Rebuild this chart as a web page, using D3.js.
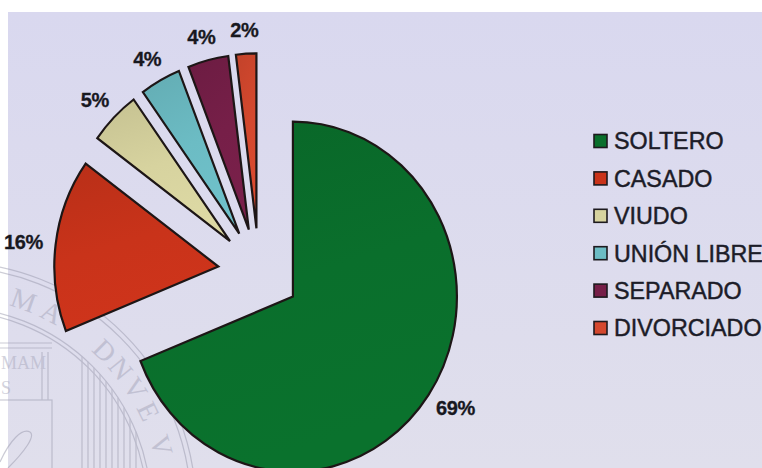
<!DOCTYPE html>
<html>
<head>
<meta charset="utf-8">
<script src="https://cdn.jsdelivr.net/npm/d3@7/dist/d3.min.js"></script>
<style>
  html, body { margin: 0; padding: 0; background: #ffffff; }
  svg { display: block; }
</style>
</head>
<body>
<svg id="chart" width="762" height="468"></svg>
<script>
// Estado civil: distribución porcentual
const categories = ["SOLTERO", "CASADO", "VIUDO", "UNIÓN LIBRE", "SEPARADO", "DIVORCIADO"];
const values = [69, 16, 5, 4, 4, 2];

const palette = ["#0a6f2c", "#c9331a", "#d7d39f", "#6cbcc4", "#761f48", "#d4482e"];

const W = 762, H = 468;
const svg = d3.select("#chart");
const defs = svg.append("defs");

// page + plot area
svg.append("rect").attr("width", W).attr("height", H).attr("fill", "#ffffff");
const bg = defs.append("linearGradient").attr("id", "bgGrad")
  .attr("x1", 0).attr("y1", 0).attr("x2", 0).attr("y2", 1);
bg.append("stop").attr("offset", "0%").attr("stop-color", "#d9d8ef");
bg.append("stop").attr("offset", "100%").attr("stop-color", "#e0dfec");
svg.append("rect").attr("x", 8).attr("y", 12).attr("width", W - 8).attr("height", H - 12)
  .attr("fill", "url(#bgGrad)");

// faint seal printed behind the chart
const seal = svg.append("g").attr("opacity", 0.5)
  .attr("fill", "none").attr("stroke", "#9a9aae").attr("stroke-width", 1.2);
const sc = { x: -50, y: 508 };
[246, 241, 201, 197].forEach(r => {
  seal.append("circle").attr("cx", sc.x).attr("cy", sc.y).attr("r", r);
});
// lettering around the rim, one glyph at a time
const rimLetters = "MADNVEV".split("");
const rimAngles = [19.5, 27.5, 44.5, 50.8, 57.2, 64, 73.5];
rimLetters.forEach((ch, i) => {
  const a = rimAngles[i] * Math.PI / 180, r = 211;
  const x = sc.x + r * Math.sin(a), y = sc.y - r * Math.cos(a);
  seal.append("text")
    .attr("fill", "#a5a5ba").attr("stroke", "none")
    .attr("font-family", "'Liberation Serif', 'DejaVu Serif', serif")
    .attr("font-size", 28)
    .attr("text-anchor", "middle")
    .attr("transform", `translate(${x},${y}) rotate(${rimAngles[i]})`)
    .text(ch);
});
d3.range(82, 138, 6).forEach(x => {
  const dx = x - sc.x;
  const y = sc.y - Math.sqrt(201 * 201 - dx * dx);
  seal.append("line").attr("x1", x).attr("x2", x).attr("y1", y).attr("y2", H);
});
seal.append("line").attr("x1", 0).attr("x2", 52).attr("y1", 343).attr("y2", 343);
seal.append("line").attr("x1", 0).attr("x2", 52).attr("y1", 348).attr("y2", 348);
seal.append("rect").attr("x", -10).attr("y", 400).attr("width", 62).attr("height", 90);
seal.append("line").attr("x1", 42).attr("x2", 42).attr("y1", 352).attr("y2", 400);
seal.append("line").attr("x1", 48).attr("x2", 48).attr("y1", 352).attr("y2", 400);
seal.append("path").attr("d", "M0,462 C10,440 22,428 30,432 C36,436 24,452 8,468");
seal.append("text").attr("fill", "#a9a9bd").attr("stroke", "none")
  .attr("font-family", "'Liberation Serif', serif").attr("font-size", 18)
  .attr("x", 1).attr("y", 369).text("MAM");
seal.append("text").attr("fill", "#a9a9bd").attr("stroke", "none")
  .attr("font-family", "'Liberation Serif', serif").attr("font-size", 18)
  .attr("x", 1).attr("y", 394).text("S");

// pie geometry
const cx = 259, cy = 272, R = 164, sy = 1.067, explode = 41, labelGap = 13;

const pie = d3.pie().sort(null).value(d => d)
  .startAngle(0).endAngle(2 * Math.PI);
const arcs = pie(values);
const arc = d3.arc().innerRadius(0).outerRadius(R);

arcs.forEach((d, i) => {
  const c = d3.color(palette[i]);
  const g = defs.append("linearGradient").attr("id", "slice" + i)
    .attr("x1", 0).attr("y1", 0).attr("x2", 0.3).attr("y2", 1);
  g.append("stop").attr("offset", "0%").attr("stop-color", c.darker(0.25));
  g.append("stop").attr("offset", "55%").attr("stop-color", c);
  g.append("stop").attr("offset", "100%").attr("stop-color", c.brighter(0.08));
});

const pieG = svg.append("g")
  .attr("transform", `translate(${cx},${cy}) scale(1,${sy})`);

const mid = d => (d.startAngle + d.endAngle) / 2;

pieG.selectAll("path.slice").data(arcs).join("path")
  .attr("class", "slice")
  .attr("d", arc)
  .attr("transform", d => `translate(${explode * Math.sin(mid(d))},${-explode * Math.cos(mid(d))})`)
  .attr("fill", (d, i) => `url(#slice${i})`)
  .attr("stroke", "#1d1616")
  .attr("stroke-width", 2.2)
  .attr("stroke-linejoin", "miter")
  .attr("vector-effect", "non-scaling-stroke");

// percentage labels just outside each slice
const lbl = svg.append("g")
  .attr("font-family", "'Liberation Sans', Arial, sans-serif")
  .attr("font-weight", "bold")
  .attr("font-size", 20)
  .attr("fill", "#18181f")
  .attr("stroke", "#18181f")
  .attr("stroke-width", 0.3);

arcs.forEach(d => {
  const m = mid(d);
  const ux = Math.sin(m), uy = -Math.cos(m);
  const t = lbl.append("text")
    .attr("text-anchor", "middle")
    .attr("dominant-baseline", "central")
    .attr("letter-spacing", -0.4)
    .text(d.value + "%");
  const w = t.node().getComputedTextLength(), h = 20;
  const dist = explode + R + labelGap;
  const x = cx + dist * ux + ux * w / 2;
  const y = cy + dist * uy * sy + uy * h / 2;
  t.attr("x", x).attr("y", y);
});

// legend
const legendY = d3.scalePoint().domain(categories).range([141, 328]);
const leg = svg.append("g");
categories.forEach((c, i) => {
  const y = legendY(c);
  leg.append("rect")
    .attr("x", 594).attr("y", y - 6.5).attr("width", 13).attr("height", 13)
    .attr("fill", palette[i]).attr("stroke", "#1d1a1e").attr("stroke-width", 1.6);
  leg.append("text")
    .attr("x", 614).attr("y", y + 8.3)
    .attr("font-family", "'Liberation Sans', Arial, sans-serif")
    .attr("font-size", 23.3)
    .attr("fill", "#1c1c28")
    .attr("stroke", "#1c1c28")
    .attr("stroke-width", 0.45)
    .text(c);
});
</script>
</body>
</html>
